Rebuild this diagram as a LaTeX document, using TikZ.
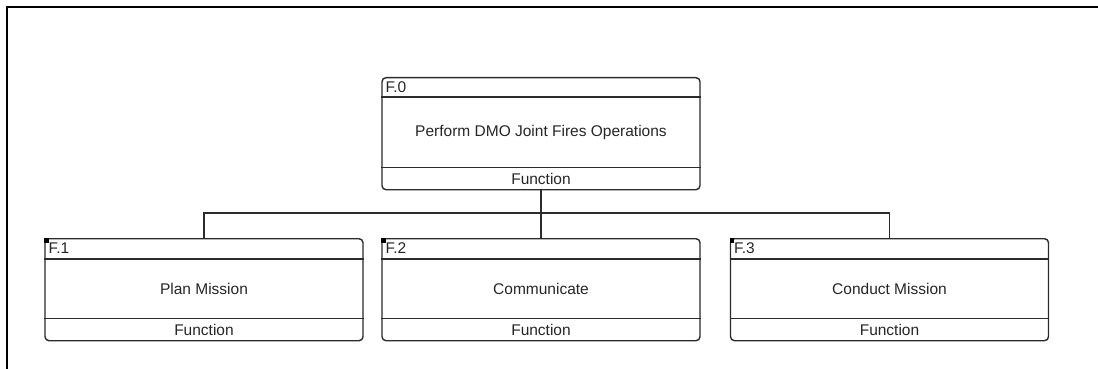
\documentclass[tikz,border=0pt]{standalone}
\usepackage{fontspec}
\setmainfont{Liberation Sans}
\usetikzlibrary{calc}

\definecolor{inkline}{HTML}{2B2B2B}
\definecolor{inktext}{HTML}{262626}

\tikzset{
  fnbox/.style={draw=inkline, line width=1.4pt, rounded corners=4pt,
    fill=white, rectangle, inner sep=0pt, minimum height=#1},
  rule/.style={draw=inkline, line width=1.4pt},
  link/.style={draw=inkline, line width=1.4pt},
  frame/.style={draw=black, line width=2.2pt},
  idtext/.style={font=\fontsize{15.5}{17}\selectfont, text=inktext, inner sep=0pt},
  bodytext/.style={font=\fontsize{15.5}{17}\selectfont, text=inktext, inner sep=0pt},
  marker/.style={fill=black, draw=none},
}

% #1 name, #2 centre x, #3 top y, #4 height, #5 header depth, #6 id, #7 title, #8 1 = corner marker
\newcommand\fnblock[8]{%
  \node[fnbox=#4, minimum width=318pt, anchor=north] (#1) at (#2,#3) {};
  \coordinate (#1-hl) at ($(#1.north west)+(0,#5)$);
  \coordinate (#1-hr) at ($(#1.north east)+(0,#5)$);
  \coordinate (#1-fl) at ($(#1.south west)+(0,-23)$);
  \coordinate (#1-fr) at ($(#1.south east)+(0,-23)$);
  \draw[rule] (#1-hl) -- (#1-hr);
  \draw[rule] (#1-fl) -- (#1-fr);
  \ifnum#8=1
    \fill[marker] (#1.north west) rectangle ++(4.5,4.5);
  \fi
  \node[idtext, anchor=west] (#1-id) at ($(#1.north west)!0.5!(#1-hl)+(4,0)$) {#6};
  \node[bodytext] (#1-title) at ($(#1-hl)!0.5!(#1-fr)$) {#7};
  \node[bodytext] (#1-kind) at ($(#1-fl)!0.5!(#1.south east)$) {Function};
}

\begin{document}
\begin{tikzpicture}[x=1pt, y=-1pt]
  \useasboundingbox (0,0) rectangle (1098,369);
  \fill[white] (0,0) rectangle (1098,369);

  % surrounding diagram frame (top and left edges)
  \draw[frame] (7,380) -- (7,7) -- (1110,7);

  % function blocks
  \fnblock{f0}{541}{77}{112pt}{20}{F.0}{Perform DMO Joint Fires Operations}{0}
  \fnblock{f1}{204}{238}{102pt}{21}{F.1}{Plan Mission}{1}
  \fnblock{f2}{541}{238}{102pt}{21}{F.2}{Communicate}{1}
  \fnblock{f3}{889.5}{238}{102pt}{21}{F.3}{Conduct Mission}{1}

  % decomposition tree
  \coordinate (bus) at (541,213);
  \draw[link] (f0.south) -- (bus);
  \draw[link] (f1.north) -- (f1.north |- bus) -- (f3.north |- bus) -- (f3.north);
  \draw[link] (f2.north) -- (f2.north |- bus);
\end{tikzpicture}
\end{document}
